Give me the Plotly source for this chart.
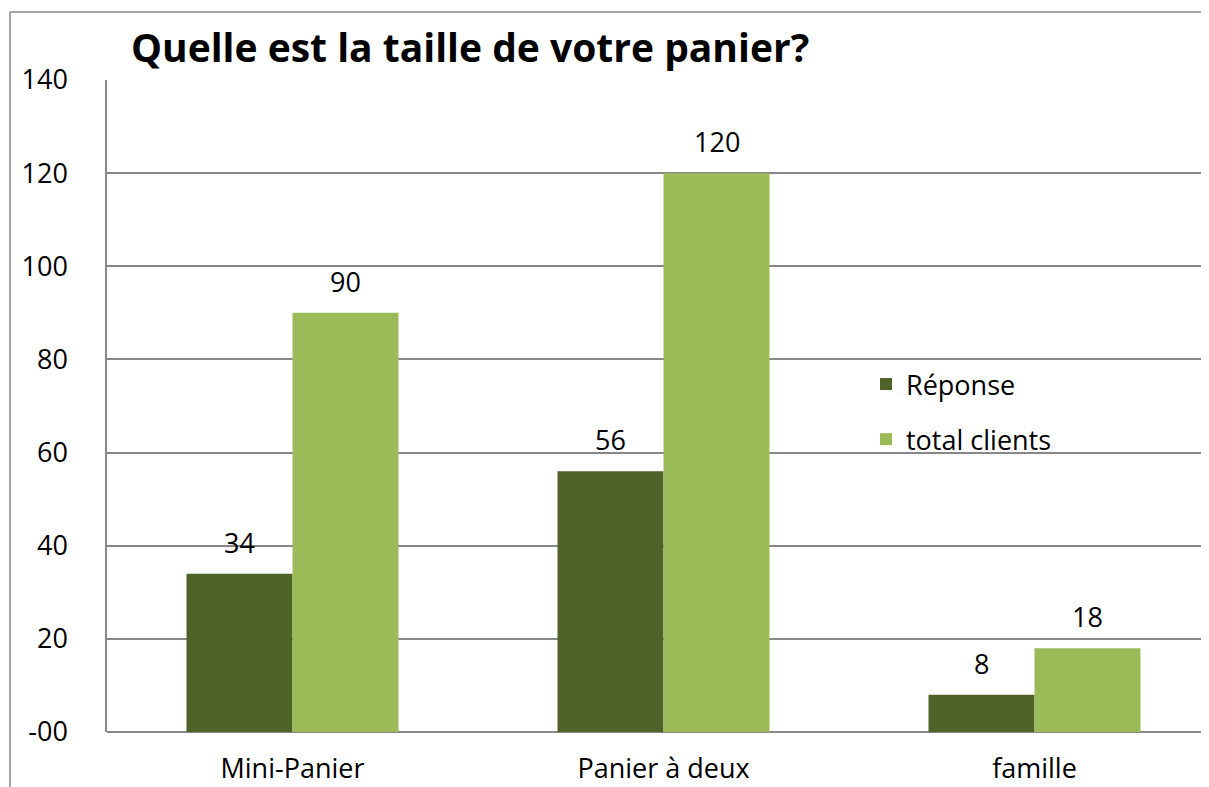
import plotly.graph_objects as go

categories = ["Mini-Panier", "Panier à deux", "famille"]
reponse = [34, 56, 8]
total_clients = [90, 120, 18]
series_names = ["Réponse", "total clients"]
tick_vals = [0, 20, 40, 60, 80, 100, 120, 140]
tick_text = ["-00", "20", "40", "60", "80", "100", "120", "140"]

FONT = "Open Sans, Lato, sans-serif"
FS = 27
W, H = 1209, 787
ML, MT, MB = 99, 72, 63
plot_w = W - ML
plot_h = H - MT - MB
cat_w = 371
bar_w = 106
GRID = "#878787"

colors = ["#4F6228", "#9BBB59"]
series = [reponse, total_clients]

fig = go.Figure()
for i, (name, vals) in enumerate(zip(series_names, series)):
    fig.add_trace(go.Bar(x=categories, y=vals, name=name, legendgroup=name,
                         marker=dict(color=colors[i], line=dict(width=0))))
    for c, v in zip(categories, vals):
        fig.add_annotation(x=c, y=v, xref="x", yref="y", text=str(v),
                           showarrow=False, yanchor="bottom", xanchor="center",
                           xshift=(-1 if i == 0 else 1) * bar_w / 2, yshift=11,
                           font=dict(size=FS, family=FONT, color="black"))

x_right = -0.5 + plot_w / cat_w

fig.update_layout(
    width=W, height=H,
    margin=dict(l=ML, r=0, t=MT, b=MB),
    paper_bgcolor="white", plot_bgcolor="white",
    barmode="group", bargap=1 - 2 * bar_w / cat_w, bargroupgap=0,
    font=dict(family=FONT, size=FS, color="black"),
    title=dict(text="<b>Quelle est la taille de votre panier?</b>",
               x=123 / W, xanchor="left", y=1 - 40 / H, yanchor="middle",
               font=dict(size=39, family=FONT, color="black")),
    legend=dict(x=(858 - ML) / plot_w, y=(724 - 352) / plot_h, xanchor="left", yanchor="top",
                bgcolor="rgba(0,0,0,0)", font=dict(size=FS, family=FONT),
                tracegroupgap=17, itemwidth=30),
    xaxis=dict(range=[-0.5, x_right], showgrid=False, showline=False,
               ticks="outside", ticklen=13, tickcolor="rgba(0,0,0,0)",
               tickfont=dict(size=FS, family=FONT)),
    yaxis=dict(range=[0, 140], tickvals=tick_vals, ticktext=tick_text,
               showgrid=True, gridcolor=GRID, gridwidth=1.5,
               showline=True, linecolor=GRID, linewidth=1.5,
               zeroline=True, zerolinecolor=GRID, zerolinewidth=1.5,
               ticks="outside", ticklen=32, tickcolor="rgba(0,0,0,0)",
               tickfont=dict(size=FS, family=FONT)),
    showlegend=True,
)

# outer chart border (left and top edges visible)
bx = (2 - ML) / plot_w
by = (H - MB - 4) / plot_h
fig.add_shape(type="line", xref="paper", yref="paper",
              x0=bx, x1=bx, y0=-0.2, y1=by,
              line=dict(color=GRID, width=1.5))
fig.add_shape(type="line", xref="paper", yref="paper",
              x0=bx, x1=1.05, y0=by, y1=by,
              line=dict(color=GRID, width=1.5))

fig.write_html("out.html")
